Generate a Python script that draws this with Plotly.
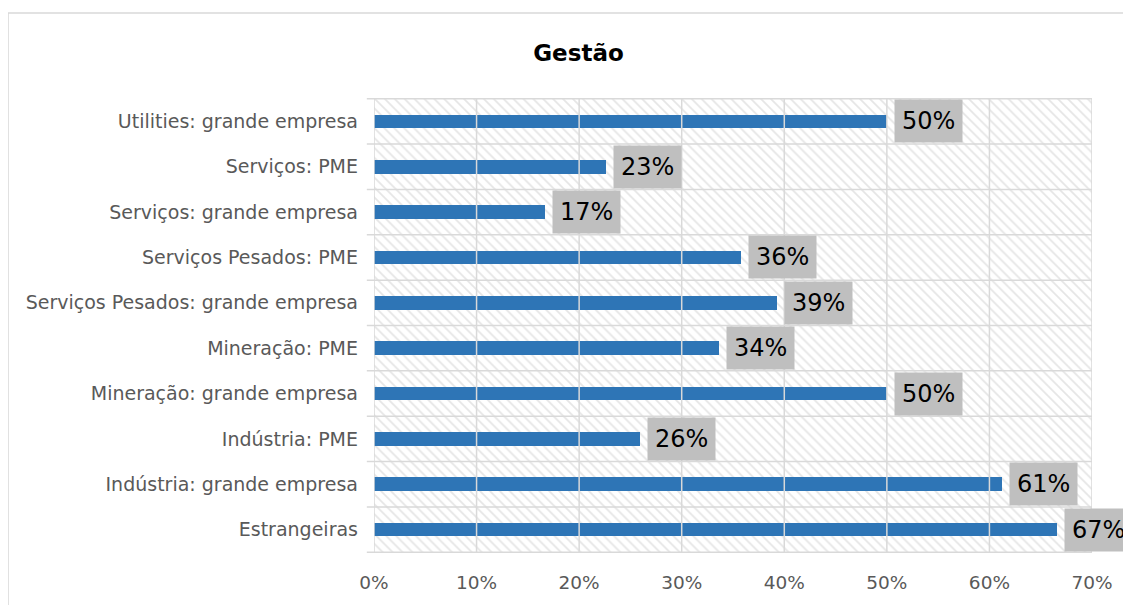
import plotly.graph_objects as go

categories = [
    "Utilities: grande empresa",
    "Serviços: PME",
    "Serviços: grande empresa",
    "Serviços Pesados: PME",
    "Serviços Pesados: grande empresa",
    "Mineração: PME",
    "Mineração: grande empresa",
    "Indústria: PME",
    "Indústria: grande empresa",
    "Estrangeiras",
]
values = [0.500, 0.226, 0.167, 0.358, 0.393, 0.336, 0.500, 0.259, 0.612, 0.666]
x_ticks = [0, 0.1, 0.2, 0.3, 0.4, 0.5, 0.6, 0.7]
x_tick_labels = ["0%", "10%", "20%", "30%", "40%", "50%", "60%", "70%"]
title = "Gestão"

FONT = "DejaVu Sans"
x_max = x_ticks[-1]

fig = go.Figure()

# hatched plot-area background
fig.add_trace(go.Bar(
    y=categories, x=[x_max] * len(categories), orientation="h", width=1,
    marker=dict(color="rgba(0,0,0,0)", line=dict(width=0),
                pattern=dict(shape="\\", fgcolor="#cccccc", bgcolor="rgba(0,0,0,0)",
                             size=7, solidity=0.25)),
    hoverinfo="skip", showlegend=False,
))

fig.add_trace(go.Bar(
    y=categories, x=values, orientation="h", width=0.3,
    marker=dict(color="#2E75B6", line=dict(width=0)),
    showlegend=False,
))

shapes = []
for i in range(len(categories) + 1):
    shapes.append(dict(type="line", xref="x domain", yref="y",
                       x0=-0.01, x1=1, y0=i - 0.5, y1=i - 0.5,
                       line=dict(color="#d9d9d9", width=1.5), layer="above"))
for t in x_ticks:
    shapes.append(dict(type="line", xref="x", yref="y domain",
                       x0=t, x1=t, y0=0, y1=1,
                       line=dict(color="#d9d9d9", width=1.5), layer="above"))
# outer chart border
shapes.append(dict(type="rect", xref="paper", yref="paper",
                   x0=-0.5097, x1=1.07, y0=-0.13, y1=1.1868,
                   line=dict(color="#d9d9d9", width=1.5), layer="below"))

annotations = []
for c, v in zip(categories, values):
    annotations.append(dict(
        x=v, y=c, xref="x", yref="y", text=f"{round(v * 100)}%",
        showarrow=False, xanchor="left", yanchor="middle", xshift=7,
        bgcolor="#BFBFBF", borderpad=7,
        font=dict(family=FONT, size=24, color="#000000"),
    ))

fig.update_layout(
    width=1123, height=597,
    margin=dict(l=366, r=39, t=90, b=52),
    paper_bgcolor="white", plot_bgcolor="white",
    barmode="overlay", bargap=0,
    title=dict(text=f"<b>{title}</b>", x=0.508, xanchor="center", y=0.925, yanchor="middle",
               font=dict(family=FONT, size=23, color="#000000")),
    xaxis=dict(range=[0, x_max], tickvals=x_ticks, ticktext=x_tick_labels,
               showgrid=False, zeroline=False, showline=False, ticks="",
               ticklabelstandoff=16,
               tickfont=dict(family=FONT, size=18.5, color="#595959")),
    yaxis=dict(autorange="reversed", showgrid=False, zeroline=False, showline=False,
               ticks="", ticklabelstandoff=15,
               tickfont=dict(family=FONT, size=19, color="#595959")),
    shapes=shapes, annotations=annotations,
)

fig.write_html("out.html")
